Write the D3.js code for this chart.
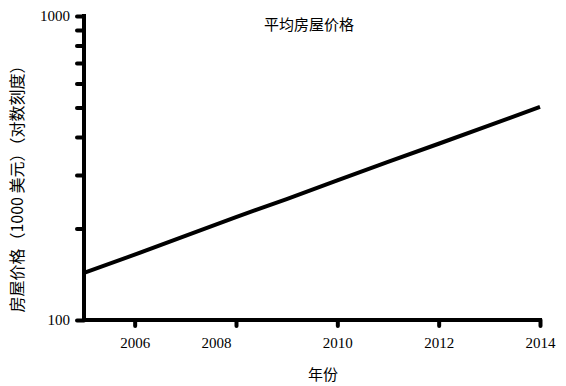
<!DOCTYPE html>
<html><head><meta charset="utf-8">
<script src="https://cdn.jsdelivr.net/npm/d3@7"></script>
<style>body{margin:0;background:#fff}</style>
</head><body>
<script>
const years = [2005,2006,2007,2008,2009,2010,2011,2012,2013,2014];
const prices = [143,164,189,218,250,288,331,380,437,502];
const xTickValues = [2006,2008,2010,2012,2014];
const yTickValues = [100,200,300,400,500,600,700,800,900,1000];
const yLabelValues = [100,1000];
const title = "平均房屋价格";
const xLabel = "年份";
const yLabel = "房屋价格（1000 美元）（对数刻度）";

const W=566,H=386;
const svg=d3.select("body").append("svg").attr("width",W).attr("height",H);
const x=d3.scaleLinear().domain([2005,2014]).range([84,540]);
const y=d3.scaleLog().domain([100,1000]).range([320,16]);
const serif="'Liberation Serif','DejaVu Serif',serif";
const cjk="'Noto Sans CJK SC',sans-serif";

// line
svg.append("path").datum(years.map((d,i)=>[d,prices[i]]))
  .attr("d",d3.line().x(d=>x(d[0])).y(d=>y(d[1])))
  .attr("fill","none").attr("stroke","#000").attr("stroke-width",4);

// y axis
const ya=svg.append("g").attr("transform","translate(84,0)")
  .call(d3.axisLeft(y).tickValues(yTickValues).tickSize(9).tickFormat(d=>yLabelValues.includes(d)?d:""));
// x axis
const xa=svg.append("g").attr("transform","translate(0,320)")
  .call(d3.axisBottom(x).tickValues(xTickValues).tickSize(9).tickFormat(d3.format("d")));
[ya,xa].forEach(a=>{
  a.select(".domain").attr("stroke-width",4).attr("stroke-linecap","square");
  a.selectAll(".tick line").attr("stroke-width",4).attr("stroke-linecap","round");
  a.selectAll(".tick text").attr("font-family",serif).attr("font-size",15).attr("fill","#000");
});
ya.select(".domain").attr("d","M0,16V320");
xa.select(".domain").attr("d","M84,0H540");
ya.selectAll(".tick line").attr("x2",-7);
ya.selectAll(".tick text").attr("x",-14);
xa.selectAll(".tick line").attr("y2",6);
xa.selectAll(".tick text").attr("y",17)
  .attr("dx",d=>d===2008?-20:0);

svg.append("text").attr("x",309).attr("y",30).attr("text-anchor","middle")
  .attr("font-family",cjk).attr("font-size",15).text(title);
svg.append("text").attr("x",323).attr("y",380).attr("text-anchor","middle")
  .attr("font-family",cjk).attr("font-size",15).text(xLabel);
svg.append("text").attr("transform","translate(23,185) rotate(-90)").attr("text-anchor","middle")
  .attr("font-family",cjk).attr("font-size",16).text(yLabel);
</script>
</body></html>
